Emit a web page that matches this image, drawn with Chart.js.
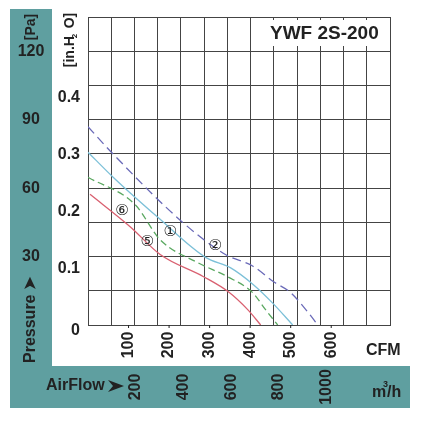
<!DOCTYPE html>
<html><head><meta charset="utf-8">
<script src="https://cdn.jsdelivr.net/npm/chart.js@4"></script>
<style>html,body{margin:0;padding:0;background:#fff}#wrap{width:422px;height:423px}</style>
</head><body><div id="wrap"><canvas id="c" width="422" height="423"></canvas></div>
<script>
// curves: airflow in CFM, pressure in in.H2O
const curve2 = [[0,0.349],[59,0.303],[233,0.181],[339,0.124],[408,0.103],[458,0.076],[500,0.057],[542,0.023],[567,0]];
const curve1 = [[0,0.304],[62,0.26],[173,0.189],[290,0.119],[351,0.101],[408,0.071],[455,0.039],[505,0]];
const curve6 = [[0,0.26],[116,0.212],[178,0.15],[270,0.11],[344,0.085],[406,0.057],[438,0.027],[468,0]];
const curve5 = [[5,0.23],[104,0.173],[178,0.124],[285,0.085],[347,0.058],[394,0.027],[426,0]];
const cfmTicks = [100, 200, 300, 400, 500, 600];
const inTicks = [0.1, 0.2, 0.3, 0.4];
const paTicks = [30, 60, 90, 120];
const m3hTicks = [200, 400, 600, 800, 1000];
const curveLabels = [['⑥',84,0.2],['⑤',146,0.145],['①',203,0.163],['②',314,0.138]];

const PA_PER_IN = 249.1, CFM_PER_M3H = 0.5886;
const FONT = '"Liberation Sans Narrow", "Liberation Sans", sans-serif';
const TEAL = '#5f9fa0';

function pts(a) { return a.map(p => ({ x: p[0], y: p[1] })); }

const frame = {
    id: 'frame',
    beforeDraw(chart) {
        const c = chart.ctx;
        c.save();
        c.fillStyle = TEAL;
        c.fillRect(10, 9, 42, 399);
        c.fillRect(10, 366, 400, 42);
        c.restore();
    },
    afterDatasetsDraw(chart) {
        const c = chart.ctx;
        c.save(); c.fillStyle = '#fff'; c.fillRect(266, 20, 116, 26); c.restore();
    },
    afterDraw(chart) {
        const c = chart.ctx, x = chart.scales.x, y = chart.scales.y;
        c.save();
        c.fillStyle = '#222';
        c.font = 'bold 16px ' + FONT;
        // in.H2O ticks
        c.textAlign = 'right'; c.textBaseline = 'middle';
        inTicks.forEach(v => c.fillText(v.toFixed(1), 80, y.getPixelForValue(v)));
        c.fillText('0', 80, y.getPixelForValue(0) + 6);
        // Pa ticks on teal
        c.textAlign = 'center';
        paTicks.forEach(v => c.fillText(String(v), 31, y.getPixelForValue(v / PA_PER_IN)));
        // CFM ticks (rotated)
        cfmTicks.forEach(v => {
            const px = x.getPixelForValue(v);
            c.fillRect(px - 0.5, y.bottom, 1, 3);
            c.save(); c.translate(px, 345); c.rotate(-Math.PI / 2);
            c.fillText(String(v), 0, 0); c.restore();
        });
        // m3/h ticks
        m3hTicks.forEach(v => {
            const px = x.getPixelForValue(v * CFM_PER_M3H);
            c.save(); c.translate(px, 387); c.rotate(-Math.PI / 2);
            c.fillText(String(v), 0, 0); c.restore();
        });
        c.textAlign = 'left';
        c.fillText('CFM', 366, 351);
        c.fillText('m', 372, 393);
        c.font = 'bold 9px ' + FONT; c.fillText('3', 383, 385);
        c.font = 'bold 16px ' + FONT; c.fillText('/h', 387, 393);
        c.fillText('AirFlow', 46, 386);
        c.beginPath(); c.moveTo(108, 380); c.lineTo(124, 386); c.lineTo(108, 392); c.lineTo(113, 386); c.closePath(); c.fill();
        // rotated axis titles
        c.save(); c.translate(31, 27); c.rotate(-Math.PI / 2); c.textAlign = 'center';
        c.font = 'bold 14px ' + FONT; c.fillText('[Pa]', 0, 0); c.restore();
        c.save(); c.translate(31, 320); c.rotate(-Math.PI / 2); c.textAlign = 'center'; c.fillText('Pressure \u27A4', 0, 0); c.restore();
        c.save(); c.translate(70, 40); c.rotate(-Math.PI / 2); c.textAlign = 'center';
        c.font = 'bold 14px ' + FONT; c.fillText('[in.H  O]', 0, 0);
        c.font = 'bold 8px ' + FONT; c.fillText('2', 4, 5); c.restore();
        // title
        c.font = 'bold 19px ' + FONT; c.textAlign = 'left';
        c.fillText('YWF 2S-200', 270, 34);
        // curve labels
        c.font = '15px "DejaVu Sans", sans-serif'; c.textAlign = 'center';
        curveLabels.forEach(l => c.fillText(l[0], x.getPixelForValue(l[1]), y.getPixelForValue(l[2])));
        c.restore();
    }
};

const maxCfm = 745, maxIn = 135 / PA_PER_IN;
new Chart(document.getElementById('c'), {
    type: 'line',
    data: {
        datasets: [
            { data: pts(curve2), borderColor: '#6a6ab8', borderDash: [9, 5] },
            { data: pts(curve1), borderColor: '#7cc0d8' },
            { data: pts(curve6), borderColor: '#5aa860', borderDash: [7, 4] },
            { data: pts(curve5), borderColor: '#d96070' }
        ].map(d => Object.assign(d, { borderWidth: 1.3, pointRadius: 0, cubicInterpolationMode: 'monotone', fill: false }))
    },
    options: {
        responsive: false, animation: false,
        layout: { padding: { left: 88, right: 32, top: 17, bottom: 98 } },
        plugins: { legend: { display: false }, tooltip: { enabled: false } },
        scales: {
            x: { type: 'linear', min: 0, max: maxCfm, display: false },
            y: { type: 'linear', min: 0, max: maxIn, display: false },
            gx: { type: 'linear', axis: 'x', position: 'bottom', min: 0, max: 13,
                  ticks: { stepSize: 1, display: false },
                  grid: { color: '#444', lineWidth: 1, drawTicks: false }, border: { color: '#444' } },
            gy: { type: 'linear', axis: 'y', position: 'left', min: 0, max: 9,
                  ticks: { stepSize: 1, display: false },
                  grid: { color: '#444', lineWidth: 1, drawTicks: false }, border: { color: '#444' } }
        }
    },
    plugins: [frame]
});
</script></body></html>
